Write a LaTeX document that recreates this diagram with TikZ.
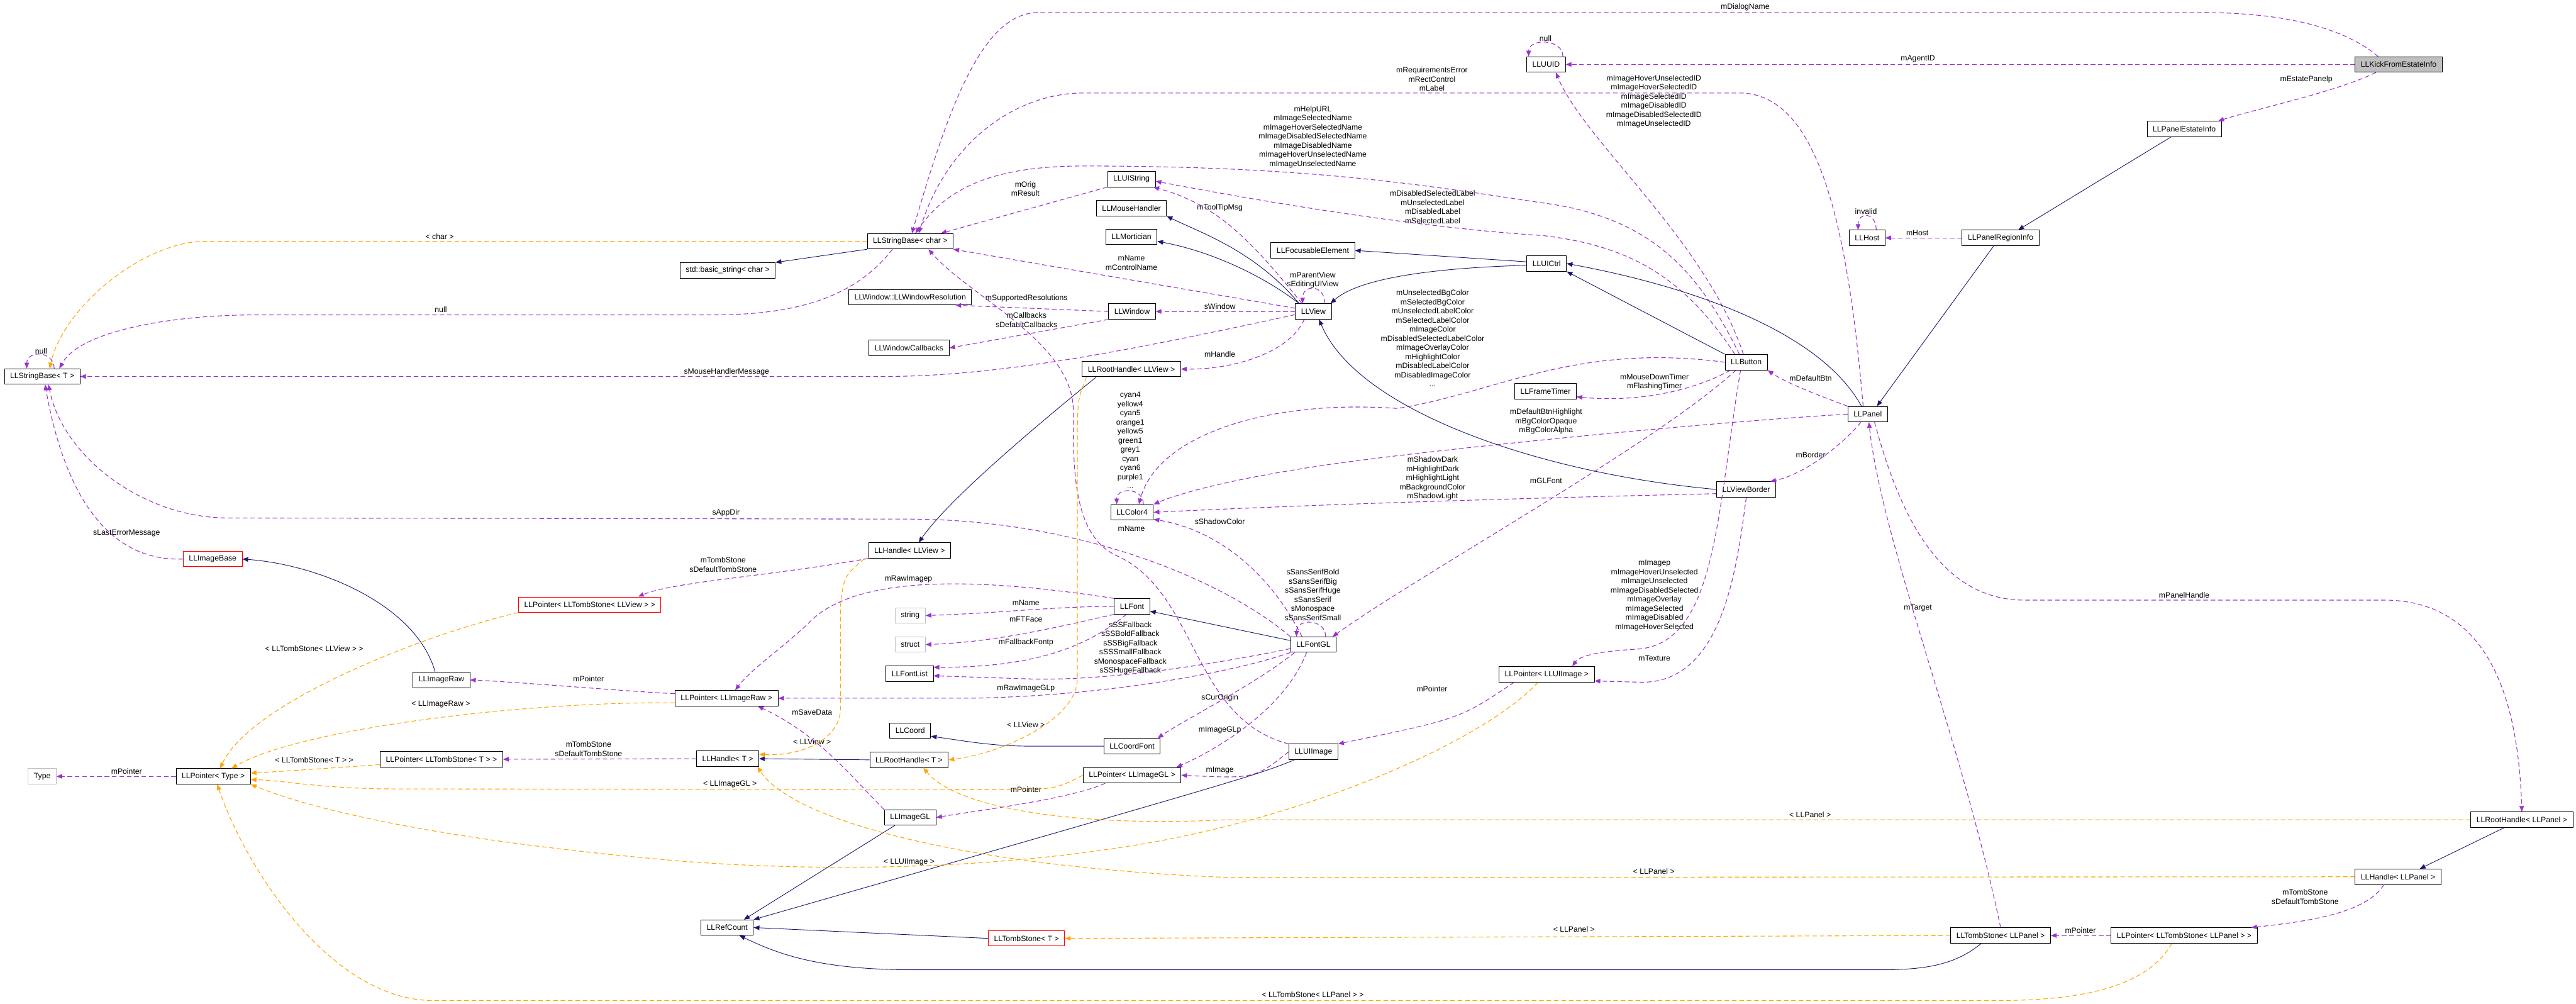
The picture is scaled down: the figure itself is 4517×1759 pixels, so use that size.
\documentclass[tikz,border=0pt]{standalone}
\usepackage{fontspec}
\setmainfont{Liberation Sans}
\usetikzlibrary{arrows.meta}
\definecolor{usecol}{HTML}{9A32CD}
\definecolor{inhcol}{HTML}{191970}
\definecolor{tplcol}{HTML}{FFA500}
\definecolor{undoc}{HTML}{BFBFBF}

\begin{document}
\begin{tikzpicture}[x=1pt, y=-1pt,
  >={Triangle[length=10pt,width=8pt]}, font=\fontsize{13.5}{16}\selectfont,
  cls/.style={rectangle, draw=black, line width=1pt, fill=white, inner xsep=10pt, inner ysep=0pt,
              minimum height=27pt},
  clsred/.style={cls, draw=red},
  clsext/.style={cls, draw=undoc},
  clsmain/.style={cls, fill=undoc},
  mem/.style={->, draw=usecol, line width=1.2pt, dash pattern=on 8pt off 5pt},
  inh/.style={->, draw=inhcol, line width=1pt},
  tpl/.style={->, draw=tplcol, line width=1.2pt, dash pattern=on 8pt off 5pt},
  lbl/.style={align=center, inner sep=0pt},
]
\useasboundingbox (0,0) rectangle (4517,1759);

% classes
\node[clsmain] (n-kick)      at (4206,113)  {LLKickFromEstateInfo};
\node[cls]     (n-uuid)      at (2711,113)  {LLUUID};
\node[cls]     (n-estate)    at (3830,226)  {LLPanelEstateInfo};
\node[cls]     (n-region)    at (3508,417)  {LLPanelRegionInfo};
\node[cls]     (n-host)      at (3274,417)  {LLHost};
\node[cls]     (n-uictrl)    at (2712,462)  {LLUICtrl};
\node[cls]     (n-focus)     at (2302,439)  {LLFocusableElement};
\node[cls]     (n-button)    at (3062,635)  {LLButton};
\node[cls]     (n-panel)     at (3275,726)  {LLPanel};
\node[cls]     (n-ftimer)    at (2710,686)  {LLFrameTimer};
\node[cls]     (n-border)    at (3062,858)  {LLViewBorder};
\node[cls]     (n-ptruiimg)  at (2712,1182) {LLPointer< LLUIImage >};
\node[cls]     (n-uistring)  at (1984,314)  {LLUIString};
\node[cls]     (n-mouse)     at (1984,365)  {LLMouseHandler};
\node[cls]     (n-mort)      at (1984,415)  {LLMortician};
\node[cls]     (n-view)      at (2303,546)  {LLView};
\node[cls]     (n-window)    at (1985,546)  {LLWindow};
\node[cls]     (n-rhview)    at (1984,647)  {LLRootHandle< LLView >};
\node[cls]     (n-color)     at (1985,898)  {LLColor4};
\node[cls]     (n-font)      at (1985,1063) {LLFont};
\node[cls]     (n-fontgl)    at (2303,1130) {LLFontGL};
\node[cls]     (n-coordfont) at (1985,1308) {LLCoordFont};
\node[cls]     (n-ptrgl)     at (1985,1359) {LLPointer< LLImageGL >};
\node[cls]     (n-uiimage)   at (2303,1318) {LLUIImage};
\node[cls]     (n-sbchar)    at (1596,423)  {LLStringBase< char >};
\node[cls]     (n-winres)    at (1596,521)  {LLWindow::LLWindowResolution};
\node[cls]     (n-wincb)     at (1594,610)  {LLWindowCallbacks};
\node[cls]     (n-hview)     at (1595,965)  {LLHandle< LLView >};
\node[clsext]  (n-string)    at (1596,1079) {string};
\node[clsext]  (n-struct)    at (1596,1130) {struct};
\node[cls]     (n-fontlist)  at (1595,1181) {LLFontList};
\node[cls]     (n-coord)     at (1596,1281) {LLCoord};
\node[cls]     (n-rht)       at (1594,1332) {LLRootHandle< T >};
\node[cls]     (n-imagegl)   at (1596,1433) {LLImageGL};
\node[clsred]  (n-tst)       at (1800,1645) {LLTombStone< T >};
\node[cls]     (n-bstr)      at (1276,474)  {std::basic\_string< char >};
\node[cls]     (n-ptrraw)    at (1274,1224) {LLPointer< LLImageRaw >};
\node[cls]     (n-ht)        at (1276,1330) {LLHandle< T >};
\node[cls]     (n-refcount)  at (1275,1626) {LLRefCount};
\node[clsred]  (n-ptrtsview) at (1034,1060) {LLPointer< LLTombStone< LLView > >};
\node[cls]     (n-imageraw)  at (774,1192)  {LLImageRaw};
\node[cls]     (n-ptrtst)    at (774,1331)  {LLPointer< LLTombStone< T > >};
\node[clsred]  (n-imagebase) at (373,980)   {LLImageBase};
\node[cls]     (n-ptrtype)   at (374,1361)  {LLPointer< Type >};
\node[cls]     (n-sbt)       at (74,660)    {LLStringBase< T >};
\node[clsext]  (n-type)      at (74,1361)   {Type};
\node[cls]     (n-rhpanel)   at (4422,1437) {LLRootHandle< LLPanel >};
\node[cls]     (n-hpanel)    at (4205,1537) {LLHandle< LLPanel >};
\node[cls]     (n-tspanel)   at (3508,1640) {LLTombStone< LLPanel >};
\node[cls]     (n-ptrtspanel) at (3830,1640) {LLPointer< LLTombStone< LLPanel > >};

% member labels
\node[lbl] (l-dialog)    at (3060,13)   {mDialogName};
\node[lbl] (l-uuidnull)  at (2710,67)   {null};
\node[lbl] (l-agent)     at (3363,103)  {mAgentID};
\node[lbl] (l-estate)    at (4044,139)  {mEstatePanelp};
\node[lbl] (l-req)       at (2511,139)  {mRequirementsError\\mRectControl\\mLabel};
\node[lbl] (l-imgid)     at (2900,178)  {mImageHoverUnselectedID\\mImageHoverSelectedID\\mImageSelectedID\\mImageDisabledID\\mImageDisabledSelectedID\\mImageUnselectedID};
\node[lbl] (l-helpurl)   at (2302,240)  {mHelpURL\\mImageSelectedName\\mImageHoverSelectedName\\mImageDisabledSelectedName\\mImageDisabledName\\mImageHoverUnselectedName\\mImageUnselectedName};
\node[lbl] (l-orig)      at (1798,331)  {mOrig\\mResult};
\node[lbl] (l-tooltip)   at (2139,364)  {mToolTipMsg};
\node[lbl] (l-label)     at (2512,363)  {mDisabledSelectedLabel\\mUnselectedLabel\\mDisabledLabel\\mSelectedLabel};
\node[lbl] (l-invalid)   at (3272,371)  {invalid};
\node[lbl] (l-host)      at (3362,408)  {mHost};
\node[lbl] (l-char)      at (771,415)   {< char >};
\node[lbl] (l-ctrlname)  at (1984,461)  {mName\\mControlName};
\node[lbl] (l-parent)    at (2302,491)  {mParentView\\sEditingUIView};
\node[lbl] (l-btncolor)  at (2512,593)  {mUnselectedBgColor\\mSelectedBgColor\\mUnselectedLabelColor\\mSelectedLabelColor\\mImageColor\\mDisabledSelectedLabelColor\\mImageOverlayColor\\mHighlightColor\\mDisabledLabelColor\\mDisabledImageColor\\...};
\node[lbl] (l-supres)    at (1800,523)  {mSupportedResolutions};
\node[lbl] (l-window)    at (2139,537)  {sWindow};
\node[lbl] (l-null)      at (773,543)   {null};
\node[lbl] (l-callbacks) at (1800,561)  {mCallbacks\\sDefaultCallbacks};
\node[lbl] (l-sbtnull)   at (72,615)    {null};
\node[lbl] (l-handle)    at (2139,621)  {mHandle};
\node[lbl] (l-mousemsg)  at (1274,652)  {sMouseHandlerMessage};
\node[lbl] (l-timer)     at (2901,670)  {mMouseDownTimer\\mFlashingTimer};
\node[lbl] (l-defbtn)    at (3175,663)  {mDefaultBtn};
\node[lbl] (l-colors)    at (1982,772)  {cyan4\\yellow4\\cyan5\\orange1\\yellow5\\green1\\grey1\\cyan\\cyan6\\purple1\\...};
\node[lbl] (l-bgcolor)   at (2711,739)  {mDefaultBtnHighlight\\mBgColorOpaque\\mBgColorAlpha};
\node[lbl] (l-border)    at (3175,797)  {mBorder};
\node[lbl] (l-shadow)    at (2512,839)  {mShadowDark\\mHighlightDark\\mHighlightLight\\mBackgroundColor\\mShadowLight};
\node[lbl] (l-glfont)    at (2711,843)  {mGLFont};
\node[lbl] (l-appdir)    at (1273,899)  {sAppDir};
\node[lbl] (l-shcolor)   at (2139,914)  {sShadowColor};
\node[lbl] (l-uiname)    at (1984,927)  {mName};
\node[lbl] (l-lasterr)   at (222,935)   {sLastErrorMessage};
\node[lbl] (l-tsview)    at (1268,990)  {mTombStone\\sDefaultTombStone};
\node[lbl] (l-fonts)     at (2302,1043) {sSansSerifBold\\sSansSerifBig\\sSansSerifHuge\\sSansSerif\\sMonospace\\sSansSerifSmall};
\node[lbl] (l-images)    at (2901,1044) {mImagep\\mImageHoverUnselected\\mImageUnselected\\mImageDisabledSelected\\mImageOverlay\\mImageSelected\\mImageDisabled\\mImageHoverSelected};
\node[lbl] (l-rawimg)    at (1593,1015) {mRawImagep};
\node[lbl] (l-panelhdl)  at (3830,1043) {mPanelHandle};
\node[lbl] (l-fontname)  at (1799,1057) {mName};
\node[lbl] (l-target)    at (3363,1066) {mTarget};
\node[lbl] (l-ftface)    at (1799,1085) {mFTFace};
\node[lbl] (l-fallbacks) at (1982,1136) {sSSFallback\\sSSBoldFallback\\sSSBigFallback\\sSSSmallFallback\\sMonospaceFallback\\sSSHugeFallback};
\node[lbl] (l-fallbackp) at (1799,1126) {mFallbackFontp};
\node[lbl] (l-tsviewtpl) at (551,1137)  {< LLTombStone< LLView > >};
\node[lbl] (l-texture)   at (2901,1154) {mTexture};
\node[lbl] (l-rawptr)    at (1032,1190) {mPointer};
\node[lbl] (l-rawgl)     at (1799,1207) {mRawImageGLp};
\node[lbl] (l-uiptr)     at (2511,1208) {mPointer};
\node[lbl] (l-curorigin) at (2139,1223) {sCurOrigin};
\node[lbl] (l-rawtpl)    at (773,1235)  {< LLImageRaw >};
\node[lbl] (l-rhviewtpl) at (1799,1270) {< LLView >};
\node[lbl] (l-savedata)  at (1424,1249) {mSaveData};
\node[lbl] (l-hviewtpl)  at (1424,1300) {< LLView >};
\node[lbl] (l-imageglp)  at (2139,1280) {mImageGLp};
\node[lbl] (l-tst)       at (1032,1313) {mTombStone\\sDefaultTombStone};
\node[lbl] (l-tsttpl)    at (551,1332)  {< LLTombStone< T > >};
\node[lbl] (l-image)     at (2139,1350) {mImage};
\node[lbl] (l-typeptr)   at (222,1352)  {mPointer};
\node[lbl] (l-gltpl)     at (1280,1375) {< LLImageGL >};
\node[lbl] (l-glptr)     at (1799,1384) {mPointer};
\node[lbl] (l-rhpaneltpl) at (3174,1428) {< LLPanel >};
\node[lbl] (l-uiimgtpl)  at (1594,1511) {< LLUIImage >};
\node[lbl] (l-hpaneltpl) at (2900,1528) {< LLPanel >};
\node[lbl] (l-tspaneltpl) at (2760,1629) {< LLPanel >};
\node[lbl] (l-tspptr)    at (3648,1631) {mPointer};
\node[lbl] (l-tspanel)   at (4042,1572) {mTombStone\\sDefaultTombStone};
\node[lbl] (l-tsppanel)  at (2302,1744) {< LLTombStone< LLPanel > >};

% usage (members)
\draw[mem] ([xshift=-36pt]n-kick.north) .. controls (4100,40) and (3980,22) .. (3860,22) -- (1820,22) .. controls (1720,22) and (1660,200) .. ([xshift=3pt]n-sbchar.north);
\draw[mem] (n-kick.west) -- (n-uuid.east);
\draw[mem] ([xshift=-40pt]n-kick.south) .. controls (4100,160) and (3960,190) .. ([xshift=-6pt]n-estate.north east);
\draw[mem] ([xshift=-5pt]n-uuid.north east) .. controls +(0,-32) and +(0,-32) .. ([xshift=4pt]n-uuid.north west);
\draw[mem] ([xshift=-5pt]n-button.north) .. controls (2990,420) and (2780,250) .. ([xshift=17pt]n-uuid.south);
\draw[mem] ([xshift=-8pt]n-panel.north) .. controls (3240,400) and (3190,163) .. (3050,163) -- (1900,163) .. controls (1780,163) and (1660,250) .. ([xshift=15pt]n-sbchar.north);
\draw[mem] ([xshift=-12pt]n-button.north) .. controls (2980,480) and (2900,380) .. (2700,355) .. controls (2500,325) and (2300,291) .. (1900,291) .. controls (1740,291) and (1660,330) .. ([xshift=9pt]n-sbchar.north);
\draw[mem] (n-uistring.south west) -- ([xshift=-22pt]n-sbchar.north east);
\draw[mem] ([xshift=-20pt]n-button.north) .. controls (2950,480) and (2850,430) .. (2706,413) .. controls (2500,400) and (2250,360) .. (n-uistring.-5);
\draw[mem] ([xshift=-20pt]n-view.north) .. controls (2200,430) and (2140,360) .. (n-uistring.-20);
\draw[mem] (n-view.170) -- (n-sbchar.south east);
\draw[mem] (n-view.west) -- (n-window.east);
\draw[mem] (n-window.west) -- (n-winres.-10);
\draw[mem] (n-window.south west) -- (n-wincb.east);
\draw[mem] ([xshift=-16pt]n-view.south) .. controls (2260,620) and (2160,648) .. (n-rhview.east);
\draw[mem] (n-view.190) .. controls (2000,610) and (1760,660) .. (1550,660) -- (n-sbt.east);
\draw[mem] ([xshift=-12pt]n-view.north east) .. controls +(0,-34) and +(0,-34) .. ([xshift=13pt]n-view.north west);
\draw[mem] (n-region.west) -- (n-host.east);
\draw[mem] ([xshift=-16pt]n-host.north east) .. controls +(0,-32) and +(0,-32) .. ([xshift=16pt]n-host.north west);
\draw[mem] (n-panel.north west) .. controls (3180,690) and (3130,670) .. (n-button.south east);
\draw[mem] ([xshift=-28pt]n-button.south) .. controls (2960,690) and (2860,705) .. (n-ftimer.-10);
\draw[mem] (n-button.west) .. controls (2760,600) and (2620,690) .. (2450,716) .. controls (2230,700) and (2030,760) .. ([xshift=12pt]n-color.north);
\draw[mem] (n-panel.west) .. controls (3000,740) and (2600,780) .. (2400,805) .. controls (2200,830) and (2080,860) .. (n-color.north east);
\draw[mem] (n-border.-172) .. controls (2600,875) and (2300,885) .. (n-color.east);
\draw[mem] ([xshift=-20pt]n-fontgl.north) .. controls (2230,1010) and (2140,930) .. (n-color.-18);
\draw[mem] ([xshift=-18pt]n-color.north east) .. controls +(0,-30) and +(0,-30) .. ([xshift=11pt]n-color.north west);
\draw[mem] ([xshift=-18pt]n-button.south) .. controls (2900,780) and (2500,1000) .. ([xshift=-7pt]n-fontgl.north east);
\draw[mem] ([xshift=-10pt]n-button.south) .. controls (3010,900) and (3010,1130) .. (2870,1138) .. controls (2800,1142) and (2770,1150) .. ([xshift=45pt]n-ptruiimg.north);
\draw[mem] (n-border.south) .. controls (3045,1000) and (3020,1195) .. (2880,1196) -- (n-ptruiimg.-8);
\draw[mem] ([xshift=-12pt]n-panel.south) .. controls (3240,770) and (3170,830) .. ([xshift=-10pt]n-border.north east);
\draw[mem] ([xshift=12pt]n-panel.south) .. controls (3330,900) and (3400,1052) .. (3550,1052) -- (4180,1052) .. controls (4350,1052) and (4415,1200) .. (n-rhpanel.north);
\draw[mem] (n-tspanel.north) .. controls (3440,1300) and (3300,950) .. ([xshift=2pt]n-panel.south);
\draw[mem] ([xshift=27pt]n-ptruiimg.south west) .. controls (2560,1260) .. (n-uiimage.north east);
\draw[mem] (n-uiimage.west) .. controls (2200,1365) .. (n-ptrgl.east);
\draw[mem] (n-uiimage.north west) .. controls (2090,1260) and (2100,1040) .. (1960,975) .. controls (1880,940) and (1882,820) .. (1882,720) .. controls (1882,600) and (1700,520) .. ([xshift=32pt]n-sbchar.south);
\draw[mem] ([xshift=-12pt]n-fontgl.south) .. controls (2250,1250) and (2120,1320) .. ([xshift=78pt]n-ptrgl.north);
\draw[mem] ([xshift=-33pt]n-fontgl.south) .. controls (2200,1200) and (2080,1260) .. ([xshift=-5pt]n-coordfont.north east);
\draw[mem] (n-fontgl.190) .. controls (2150,1160) and (1950,1195) .. (1800,1190) -- (n-fontlist.-5);
\draw[mem] (n-fontgl.south west) .. controls (2170,1176) and (1950,1220) .. (1700,1224) -- (n-ptrraw.east);
\draw[mem] (n-fontgl.north west) .. controls (2150,1020) and (1900,912) .. (1600,910) -- (400,908) .. controls (250,908) and (110,800) .. ([xshift=11pt]n-sbt.south);
\draw[mem] (n-imagebase.west) .. controls (180,985) and (110,850) .. ([xshift=5pt]n-sbt.south);
\draw[mem] (n-font.west) .. controls (1850,1063) and (1750,1075) .. (n-string.east);
\draw[mem] (n-font.south west) .. controls (1850,1100) and (1750,1125) .. (n-struct.east);
\draw[mem] ([xshift=-10pt]n-font.south) .. controls (1900,1140) and (1800,1170) .. (n-fontlist.15);
\draw[mem] (n-font.north west) .. controls (1700,1010) and (1500,1010) .. (1420,1090) .. controls (1380,1130) and (1320,1170) .. ([xshift=15pt]n-ptrraw.north);
\draw[mem] ([xshift=-19pt]n-fontgl.north east) .. controls +(0,-32) and +(0,-32) .. ([xshift=11pt]n-fontgl.north west);
\draw[mem] (n-ptrraw.175) .. controls (1100,1212) and (900,1195) .. (n-imageraw.east);
\draw[mem] (n-imagegl.north west) .. controls (1500,1370) and (1440,1290) .. ([xshift=-36pt]n-ptrraw.south east);
\draw[mem] ([xshift=-47pt]n-ptrgl.south) .. controls (1880,1400) and (1720,1420) .. (n-imagegl.east);
\draw[mem] (n-hview.south west) .. controls (1350,1010) and (1180,1020) .. ([xshift=85pt]n-ptrtsview.north);
\draw[mem] (n-ht.west) -- (n-ptrtst.east);
\draw[mem] (n-ptrtype.west) -- (n-type.east);
\draw[mem] (n-ptrtspanel.west) -- (n-tspanel.east);
\draw[mem] ([xshift=-25pt]n-hpanel.south) .. controls (4150,1600) and (4050,1615) .. ([xshift=-11pt]n-ptrtspanel.north east);
\draw[mem] ([xshift=-31pt]n-sbchar.south) .. controls (1500,520) and (1400,552) .. (1250,552) -- (450,552) .. controls (300,552) and (140,580) .. ([xshift=30pt]n-sbt.north);
\draw[mem] ([xshift=21pt]n-sbt.north) .. controls +(0,-32) and +(0,-32) .. ([xshift=-27pt]n-sbt.north);

% inheritance
\draw[inh] (n-sbchar.south west) -- (n-bstr.north east);
\draw[inh] ([xshift=-25pt]n-view.north) .. controls (2200,440) and (2110,410) .. (n-mouse.south east);
\draw[inh] ([xshift=-25pt]n-view.north) .. controls (2210,480) and (2120,440) .. (n-mort.-10);
\draw[inh] (n-uictrl.175) -- (n-focus.east);
\draw[inh] (n-uictrl.185) .. controls (2500,470) and (2380,490) .. ([xshift=-2pt]n-view.north east);
\draw[inh] (n-button.north west) -- (n-uictrl.south east);
\draw[inh] ([xshift=-11pt]n-panel.north) .. controls (3180,560) and (2900,490) .. (n-uictrl.east);
\draw[inh] ([xshift=-12pt]n-region.south) -- ([xshift=-19pt]n-panel.north east);
\draw[inh] ([xshift=-23pt]n-estate.south) -- ([xshift=31pt]n-region.north);
\draw[inh] (n-border.west) .. controls (2700,830) and (2380,720) .. ([xshift=10pt]n-view.south);
\draw[inh] ([xshift=25pt]n-rhview.south west) .. controls (1800,760) and (1660,880) .. ([xshift=16pt]n-hview.north);
\draw[inh] ([xshift=-11pt]n-imageraw.north) .. controls (730,1060) and (560,990) .. (n-imagebase.east);
\draw[inh] (n-coordfont.west) -- (1806,1308) .. controls (1740,1308) and (1700,1300) .. (n-coord.-15);
\draw[inh] (n-fontgl.170) -- (n-font.-15);
\draw[inh] (n-rht.west) -- (n-ht.east);
\draw[inh] ([xshift=-27pt]n-imagegl.south) -- ([xshift=-17pt]n-refcount.north east);
\draw[inh] ([xshift=-33pt]n-uiimage.south) .. controls (2200,1360) .. (n-refcount.north east);
\draw[inh] (n-tst.west) -- (n-refcount.east);
\draw[inh] ([xshift=-34pt]n-tspanel.south) .. controls (3430,1690) and (3380,1700) .. (3300,1700) -- (1600,1700) .. controls (1430,1700) and (1360,1670) .. ([xshift=-25pt]n-refcount.south east);
\draw[inh] ([xshift=-31pt]n-rhpanel.south) -- ([xshift=38pt]n-hpanel.north);

% template instances
\draw[tpl] (n-sbchar.west) -- (360,423) .. controls (250,423) and (110,540) .. ([xshift=13pt]n-sbt.north);
\draw[tpl] (n-ptrtsview.south west) .. controls (750,1110) and (440,1230) .. ([xshift=12pt]n-ptrtype.north);
\draw[tpl] (n-ptrraw.185) .. controls (900,1230) and (520,1280) .. ([xshift=32pt]n-ptrtype.north);
\draw[tpl] (n-ptrtst.-175) .. controls (600,1345) and (500,1352) .. (n-ptrtype.5);
\draw[tpl] (n-ptrgl.west) .. controls (1850,1384) .. (1750,1384) -- (700,1383) .. controls (560,1383) and (500,1368) .. (n-ptrtype.-5);
\draw[tpl] ([xshift=-15pt]n-ptruiimg.south) .. controls (2600,1300) and (2300,1430) .. (2000,1480) .. controls (1700,1530) and (1400,1525) .. (1200,1510) .. controls (900,1485) and (600,1440) .. (n-ptrtype.south east);
\draw[tpl] ([xshift=-22pt]n-ptrtspanel.south) .. controls (3760,1740) and (3620,1754) .. (3500,1754) -- (760,1754) .. controls (580,1754) and (430,1520) .. ([xshift=7pt]n-ptrtype.south);
\draw[tpl] ([xshift=-79pt]n-rhview.south) .. controls (1890,700) .. (1889,760) -- (1889,1190) .. controls (1889,1260) and (1760,1320) .. (n-rht.east);
\draw[tpl] ([xshift=-79pt]n-hview.south) .. controls (1480,1010) .. (1474,1060) -- (1474,1240) .. controls (1474,1300) and (1400,1326) .. (n-ht.8);
\draw[tpl] (n-rhpanel.west) -- (2150,1437) .. controls (1900,1450) and (1680,1420) .. ([xshift=25pt]n-rht.south);
\draw[tpl] (n-hpanel.west) -- (2150,1538) .. controls (1700,1520) and (1390,1440) .. ([xshift=-3pt]n-ht.south east);
\draw[tpl] (n-tspanel.west) -- (n-tst.east);
\end{tikzpicture}
\end{document}
